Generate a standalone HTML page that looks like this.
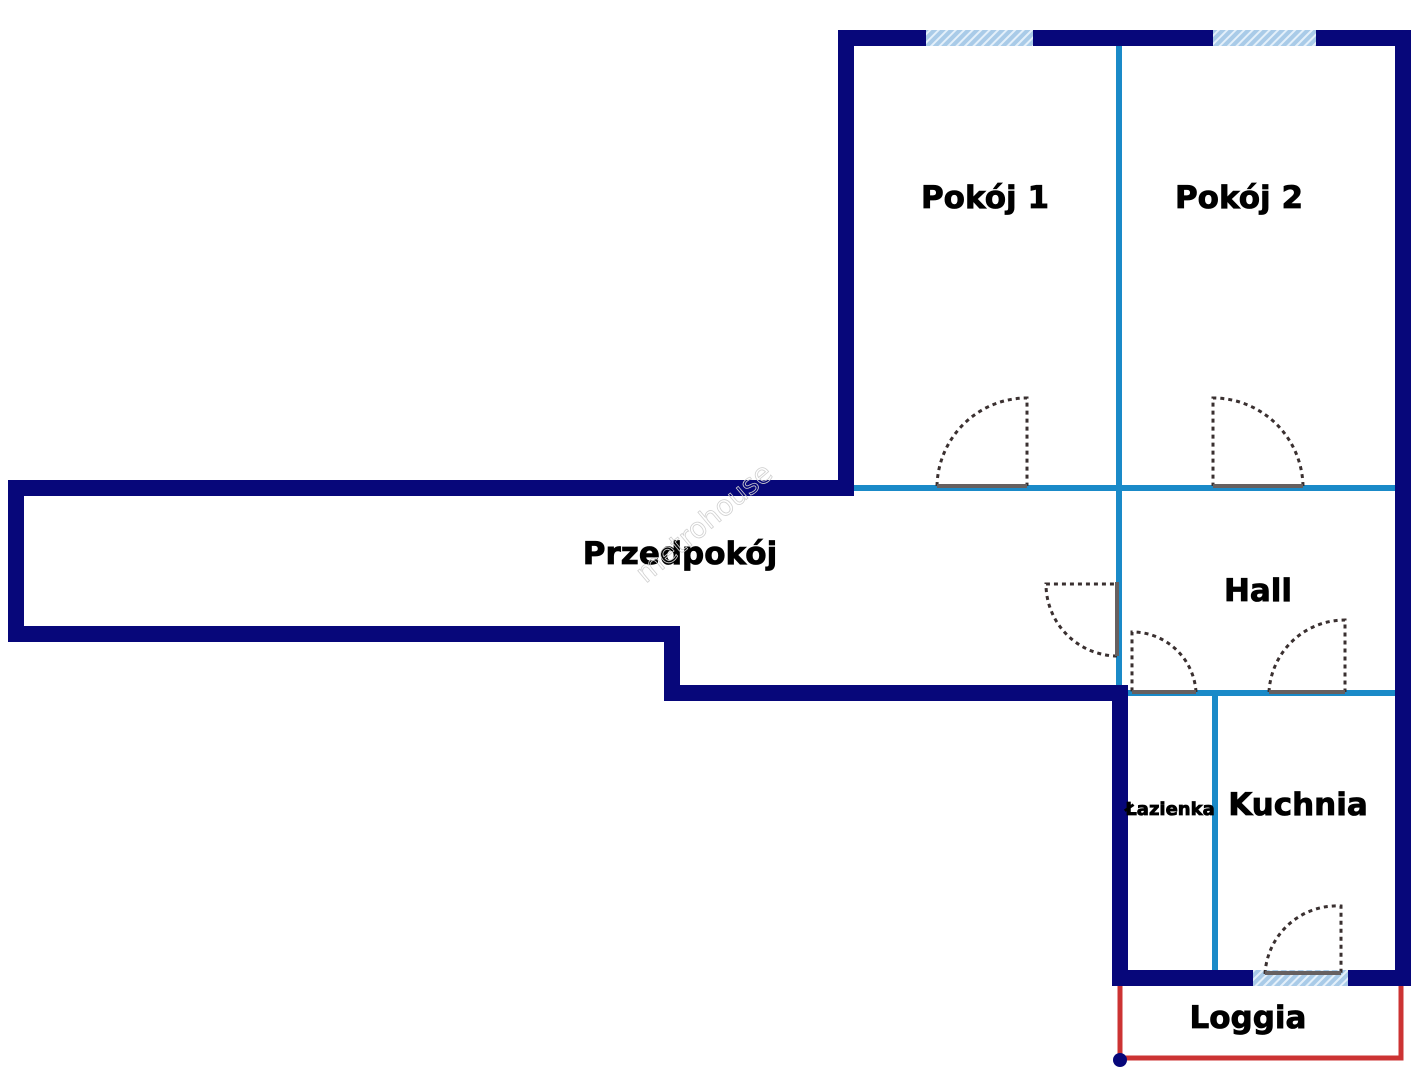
<!DOCTYPE html>
<html><head><meta charset="utf-8"><style>
html,body{margin:0;padding:0;background:#fff;}
svg{display:block;}
text{font-family:"DejaVu Sans","Liberation Sans",sans-serif;font-weight:bold;fill:#000;}
</style></head><body>
<svg width="1426" height="1080" viewBox="0 0 1426 1080" xmlns="http://www.w3.org/2000/svg">
<defs>
<pattern id="h" width="6" height="6" patternUnits="userSpaceOnUse" patternTransform="rotate(45)">
<rect width="6" height="6" fill="#a9cbe8"/><rect width="2" height="6" fill="#e4f0fa"/>
</pattern>
</defs>
<path d="M1120 986 V1058 H1401 V986" fill="none" stroke="#cc3333" stroke-width="5"/>
<circle cx="1120" cy="1060" r="7" fill="#07077a"/>
<g stroke="#1a8ac8" stroke-width="6" fill="none">
<line x1="1119" y1="46" x2="1119" y2="693"/>
<line x1="854" y1="488" x2="1395" y2="488"/>
<line x1="1128" y1="693" x2="1395" y2="693"/>
<line x1="1215" y1="693" x2="1215" y2="970"/>
</g>
<path d="M846 38 H1403 V978 H1120 V693 H672 V634 H16 V488 H846 Z" fill="none" stroke="#07077a" stroke-width="16" stroke-linejoin="miter"/>
<rect x="926" y="30" width="107" height="16" fill="url(#h)"/>
<rect x="1213" y="30" width="103" height="16" fill="url(#h)"/>
<rect x="1253" y="970" width="95" height="16" fill="url(#h)"/>
<g fill="none" stroke="#3a3030" stroke-width="3" stroke-dasharray="4 4">
<path d="M937 486 A90 90 0 0 1 1027 398 V486"/>
<path d="M1303 486 A90 90 0 0 0 1213 398 V486"/>
<path d="M1117 656 A72 72 0 0 1 1046 584 H1117"/>
<path d="M1196 692 A64 64 0 0 0 1132 632 V692"/>
<path d="M1269 692 A76 76 0 0 1 1345 620 V692"/>
<path d="M1265 974 A72 72 0 0 1 1341 906 V974"/>
</g>
<g stroke="#666060" stroke-width="4">
<line x1="937" y1="486" x2="1027" y2="486"/>
<line x1="1213" y1="486" x2="1303" y2="486"/>
<line x1="1117" y1="582" x2="1117" y2="656"/>
<line x1="1132" y1="692" x2="1196" y2="692"/>
<line x1="1269" y1="692" x2="1345" y2="692"/>
<line x1="1265" y1="973" x2="1341" y2="973"/>
</g>
<g stroke="#000" stroke-width="0.8">
<text x="985" y="208" font-size="31" text-anchor="middle">Pokój 1</text>
<text x="1239" y="208" font-size="31" text-anchor="middle">Pokój 2</text>
<text x="680" y="564" font-size="31" text-anchor="middle">Przedpokój</text>
<text x="1258" y="601" font-size="31" text-anchor="middle">Hall</text>
<text x="1298" y="815" font-size="31" text-anchor="middle">Kuchnia</text>
<text x="1170" y="815" font-size="18" text-anchor="middle">Łazienka</text>
<text x="1248" y="1028" font-size="31" text-anchor="middle">Loggia</text>
</g>
<text x="710" y="530" font-size="28" text-anchor="middle" transform="rotate(-40 710 530)" style="font-weight:normal;fill:none;stroke:#d0d0d0;stroke-width:0.8">metrohouse</text>
</svg>
</body></html>
